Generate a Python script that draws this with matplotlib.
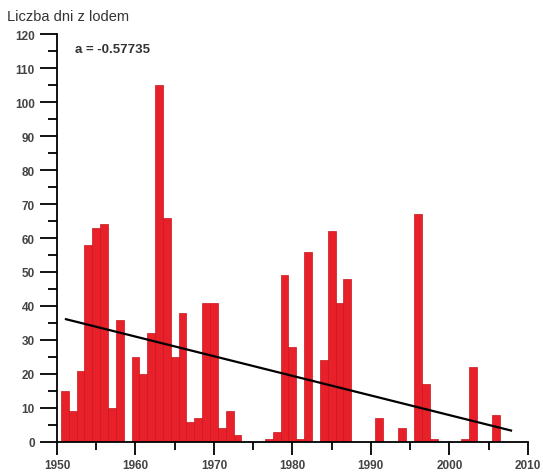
import numpy as np
import matplotlib
matplotlib.use("Agg")
import matplotlib.pyplot as plt
from matplotlib.ticker import MultipleLocator

# ice days per winter
years = list(range(1951, 2008))
ice_days = [15, 9, 21, 58, 63, 64, 10, 36, 0, 25,
            20, 32, 105, 66, 25, 38, 6, 7, 41, 41,
            4, 9, 2, 0, 0, 0, 1, 3, 49, 28,
            1, 56, 0, 24, 62, 41, 48, 0, 0, 0,
            7, 0, 0, 4, 0, 67, 17, 1, 0, 0,
            0, 1, 22, 0, 0, 8, 0]

# linear trend as given on the chart
trend_slope = -0.57735
trend_start = 36.2
trend_years = [1951, 2008]

plt.rcParams["font.family"] = ["Liberation Sans", "DejaVu Sans"]

fig = plt.figure(figsize=(5.43, 4.77), dpi=100)
ax = fig.add_axes([0.105, 0.0713, 0.867, 0.8553])

ax.bar(years, ice_days, width=1.0, color="#e8202a", edgecolor="#c8161d",
       linewidth=0.5)

ty = np.array(trend_years)
ax.plot(ty, trend_start + trend_slope * (ty - trend_years[0]),
        color="black", lw=1.6, solid_capstyle="butt")

ax.set_xlim(1950, 2010)
ax.set_ylim(0, 120)
for side in ("top", "right"):
    ax.spines[side].set_visible(False)
for side in ("left", "bottom"):
    ax.spines[side].set_linewidth(1.3)

ax.xaxis.set_major_locator(MultipleLocator(10))
ax.xaxis.set_minor_locator(MultipleLocator(5))
ax.yaxis.set_major_locator(MultipleLocator(10))
ax.yaxis.set_minor_locator(MultipleLocator(5))
ax.tick_params(which="major", width=1.3, direction="out",
               labelsize=8.5, labelcolor="#444444")
ax.tick_params(which="minor", width=1.3, direction="out")
ax.tick_params(axis="y", which="major", length=12, pad=4)
ax.tick_params(axis="y", which="minor", length=6.5)
ax.tick_params(axis="x", which="major", length=9.5, pad=3)
ax.tick_params(axis="x", which="minor", length=5.5)
for lbl in ax.get_xticklabels() + ax.get_yticklabels():
    lbl.set_fontweight("bold")

ax.text(1952.3, 115.5, "a = -0.57735", fontsize=9.5, fontweight="bold",
        color="#333333", va="center", ha="left")
fig.text(0.013, 0.964, "Liczba dni z lodem", fontsize=10.5, color="#333333",
         va="center", ha="left")

fig.savefig("out.png", dpi=100)
